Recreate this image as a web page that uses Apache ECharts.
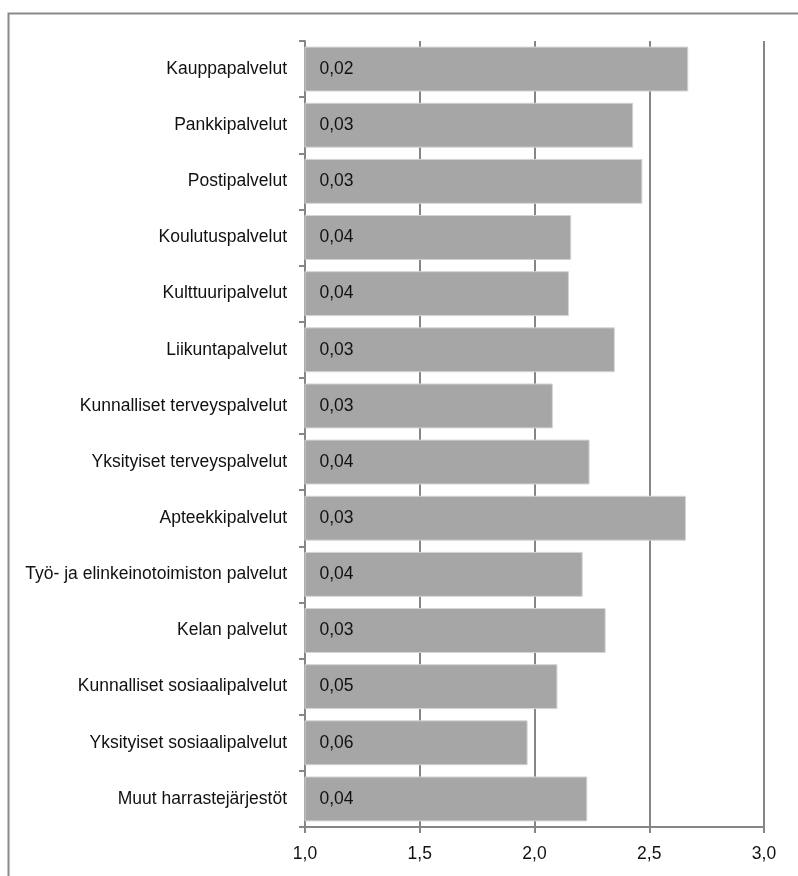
<!DOCTYPE html>
<html>
<head>
<meta charset="utf-8">
<script src="https://cdn.jsdelivr.net/npm/echarts@6/dist/echarts.min.js"></script>
<style>html,body{margin:0;padding:0;background:#fff;}#c{width:798px;height:876px;}</style>
</head>
<body>
<div id="c"></div>
<script>
const categories = [
  "Kauppapalvelut",
  "Pankkipalvelut",
  "Postipalvelut",
  "Koulutuspalvelut",
  "Kulttuuripalvelut",
  "Liikuntapalvelut",
  "Kunnalliset terveyspalvelut",
  "Yksityiset terveyspalvelut",
  "Apteekkipalvelut",
  "Työ- ja elinkeinotoimiston palvelut",
  "Kelan palvelut",
  "Kunnalliset sosiaalipalvelut",
  "Yksityiset sosiaalipalvelut",
  "Muut harrastejärjestöt"
];
const means = [2.67, 2.43, 2.47, 2.16, 2.15, 2.35, 2.08, 2.24, 2.66, 2.21, 2.31, 2.10, 1.97, 2.23];
const stdErrors = [0.02, 0.03, 0.03, 0.04, 0.04, 0.03, 0.03, 0.04, 0.03, 0.04, 0.03, 0.05, 0.06, 0.04];
const xTicks = [1.0, 1.5, 2.0, 2.5, 3.0];

const FONT = '"Liberation Sans", Arial, sans-serif';
const chart = echarts.init(document.getElementById('c'), null, {renderer: 'canvas'});
chart.setOption({
  animation: false,
  backgroundColor: '#ffffff',
  graphic: [{
    type: 'rect', left: 6, top: 11, z: -10,
    shape: {width: 820, height: 900},
    style: {fill: 'none', stroke: '#8a8a8a', lineWidth: 2}
  }],
  grid: {left: 305, right: 34, top: 41, bottom: 49, containLabel: false, outerBoundsMode: 'none'},
  xAxis: {
    type: 'value', min: xTicks[0], max: xTicks[xTicks.length - 1], interval: 0.5,
    axisLine: {show: true, lineStyle: {color: '#868686', width: 2}},
    axisTick: {show: true, length: 6, lineStyle: {color: '#868686', width: 2}},
    splitLine: {show: true, lineStyle: {color: '#868686', width: 2}},
    axisLabel: {
      margin: 18, color: '#111', fontFamily: FONT, fontSize: 17.5,
      formatter: v => v.toFixed(1).replace('.', ',')
    }
  },
  yAxis: {
    type: 'category', data: categories, inverse: true,
    axisLine: {show: true, lineStyle: {color: '#868686', width: 2}},
    axisTick: {show: true, length: 6, lineStyle: {color: '#868686', width: 2}},
    axisLabel: {margin: 18, color: '#111', fontFamily: FONT, fontSize: 17.5}
  },
  series: [{
    type: 'bar',
    data: means,
    barCategoryGap: '20%',
    itemStyle: {color: '#a6a6a6', borderColor: '#d4d4d4', borderWidth: 1},
    label: {
      show: true, position: 'insideLeft', distance: 15,
      color: '#111', fontFamily: FONT, fontSize: 17.5,
      formatter: p => stdErrors[p.dataIndex].toFixed(2).replace('.', ',')
    }
  }]
});
</script>
</body>
</html>
